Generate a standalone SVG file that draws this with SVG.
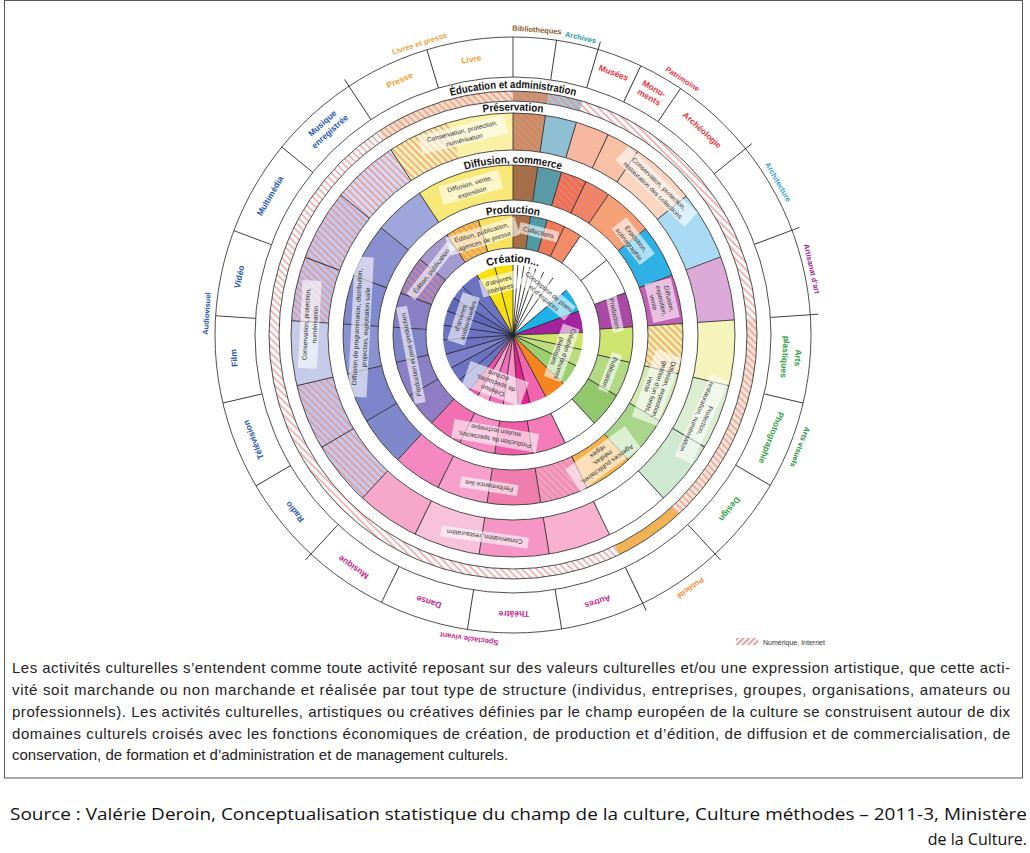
<svg xmlns="http://www.w3.org/2000/svg" xmlns:xlink="http://www.w3.org/1999/xlink" width="1030" height="853" viewBox="0 0 1030 853">
<style>
.rg circle{fill:none}
.ol{fill:none;stroke:#3a3a3a;stroke-width:0.9}
.dv{fill:none;stroke:#333;stroke-width:0.9}
.pl{fill:none;stroke:#222;stroke-width:0.8}
.lb{font-family:"Liberation Sans Narrow","Liberation Sans",Arial,sans-serif;font-weight:bold;text-anchor:middle;dominant-baseline:central;font-size:8.5px}
.gl{font-size:7.5px}
.it{font-family:"Liberation Sans Narrow","Liberation Sans",Arial,sans-serif;font-size:6.5px;fill:#333;text-anchor:middle;dominant-baseline:central}
.bx{fill:#fff;fill-opacity:0.6}
.tt{font-family:"Liberation Sans Narrow","Liberation Sans",Arial,sans-serif;font-weight:bold;font-size:11px;fill:#111;text-anchor:middle}
.or{fill:#f2a032}.br{fill:#8c5a2a}.te{fill:#2b98a6}.rd{fill:#e8363f}.lbu{fill:#2c9ad6}.pu{fill:#a01c9c}.gr{fill:#2ea043}.dg{fill:#1c8a3c}.po{fill:#f08a2c}.mg{fill:#c4268e}.bl{fill:#2456b0}
.para{font-family:"Liberation Sans",Arial,sans-serif;font-size:15px;fill:#222}
.src{font-family:"Open Sans","Liberation Sans",sans-serif;font-size:16px;fill:#111}
</style>
<defs>
<pattern id="h" width="5" height="5" patternUnits="userSpaceOnUse" patternTransform="rotate(45)"><rect width="2" height="5" fill="#e48888" fill-opacity="0.6"/></pattern>
<pattern id="h2" width="4" height="4" patternUnits="userSpaceOnUse" patternTransform="rotate(45)"><rect width="2" height="4" fill="#e8a0a0"/></pattern>
<path id="dv" d="M513 248V215M513 200V165M513 150V113M513 77V37"/>
<path id="dvx" d="M513 248V215M513 200V165M513 150V113M513 77V29"/>
<path id="dvy" d="M513 248V215M513 77V37"/>
<path id="pl" d="M513 335V265"/>
<path id="a1" d="M299.1 211.5A247 247 0 0 1 726.9 211.5"/>
<path id="a2" d="M318.6 222.75A224.5 224.5 0 0 1 707.4 222.75"/>
<path id="a3" d="M364.05 249A172 172 0 0 1 661.95 249"/>
<path id="a4" d="M407.35 274A122 122 0 0 1 618.65 274"/>
<path id="a5" d="M449.78 298.5A73 73 0 0 1 576.22 298.5"/>
</defs>
<rect width="1030" height="853" fill="#fff"/>
<rect x="4.5" y="0.5" width="1018" height="777.5" fill="none" stroke="#555" stroke-width="1"/>

<g id="rings">
<g id="ring-creation" class="rg" transform="translate(513 335) rotate(-90)" stroke-width="70">
<circle r="35" pathLength="360" stroke="#f8e010" stroke-dasharray="31 360" stroke-dashoffset="-329"/>
<circle r="35" pathLength="360" stroke="#1fb1ea" stroke-dasharray="20 360" stroke-dashoffset="-50"/>
<circle r="35" pathLength="360" stroke="#a4239e" stroke-dasharray="18 360" stroke-dashoffset="-70"/>
<circle r="35" pathLength="360" stroke="#cde36a" stroke-dasharray="14 360" stroke-dashoffset="-88"/>
<circle r="35" pathLength="360" stroke="#bcdc80" stroke-dasharray="14 360" stroke-dashoffset="-102"/>
<circle r="35" pathLength="360" stroke="#9ccf6e" stroke-dasharray="18 360" stroke-dashoffset="-116"/>
<circle r="35" pathLength="360" stroke="#f6841f" stroke-dasharray="18 360" stroke-dashoffset="-134"/>
<circle r="35" pathLength="360" stroke="#f264b0" stroke-dasharray="14 360" stroke-dashoffset="-152"/>
<circle r="35" pathLength="360" stroke="#e2238c" stroke-dasharray="10 360" stroke-dashoffset="-166"/>
<circle r="35" pathLength="360" stroke="#f590c6" stroke-dasharray="12 360" stroke-dashoffset="-176"/>
<circle r="35" pathLength="360" stroke="#ef6fb6" stroke-dasharray="12 360" stroke-dashoffset="-188"/>
<circle r="35" pathLength="360" stroke="#f7a8d0" stroke-dasharray="10 360" stroke-dashoffset="-200"/>
<circle r="35" pathLength="360" stroke="#e8559f" stroke-dasharray="8 360" stroke-dashoffset="-210"/>
<circle r="35" pathLength="360" stroke="#6c74c2" stroke-dasharray="111 360" stroke-dashoffset="-218"/>
<circle r="35" pathLength="360" stroke="#7b80c8" stroke-dasharray="12 360" stroke-dashoffset="-242"/>
<circle r="35" pathLength="360" stroke="#5f68b8" stroke-dasharray="12 360" stroke-dashoffset="-290"/>
</g>
<g id="ring-production" class="rg" transform="translate(513 335) rotate(-90)" stroke-width="33">
<circle r="103.5" pathLength="360" stroke="#8f7cc2" stroke-dasharray="16.9 360" stroke-dashoffset="-222.7"/>
<circle r="103.5" pathLength="360" stroke="#8a80c6" stroke-dasharray="17.2 360" stroke-dashoffset="-239.6"/>
<circle r="103.5" pathLength="360" stroke="#7f84c8" stroke-dasharray="16.9 360" stroke-dashoffset="-256.8"/>
<circle r="103.5" pathLength="360" stroke="#8a7fc4" stroke-dasharray="16.8 360" stroke-dashoffset="-273.7"/>
<circle r="103.5" pathLength="360" stroke="#9382c4" stroke-dasharray="18.6 360" stroke-dashoffset="-290.5"/>
<circle r="103.5" pathLength="360" stroke="#a49ad0" stroke-dasharray="17.5 360" stroke-dashoffset="-309.1"/>
<circle r="103.5" pathLength="360" stroke="#f3c040" stroke-dasharray="16.6 360" stroke-dashoffset="-326.6"/>
<circle r="103.5" pathLength="360" stroke="#f8e060" stroke-dasharray="16.8 360" stroke-dashoffset="-343.2"/>
<circle r="103.5" pathLength="360" stroke="#a66e45" stroke-dasharray="8.4 360" stroke-dashoffset="0"/>
<circle r="103.5" pathLength="360" stroke="#4e9ba3" stroke-dasharray="8.2 360" stroke-dashoffset="-8.4"/>
<circle r="103.5" pathLength="360" stroke="#ef7a5a" stroke-dasharray="8.8 360" stroke-dashoffset="-16.6"/>
<circle r="103.5" pathLength="360" stroke="#f28c68" stroke-dasharray="8.8 360" stroke-dashoffset="-25.4"/>
<circle r="103.5" pathLength="360" stroke="#a84aa6" stroke-dasharray="16.7 360" stroke-dashoffset="-69.4"/>
<circle r="103.5" pathLength="360" stroke="#cfe470" stroke-dasharray="17.1 360" stroke-dashoffset="-86.1"/>
<circle r="103.5" pathLength="360" stroke="#b3d985" stroke-dasharray="17.1 360" stroke-dashoffset="-103.2"/>
<circle r="103.5" pathLength="360" stroke="#92c76c" stroke-dasharray="17 360" stroke-dashoffset="-120.3"/>
<circle r="103.5" pathLength="360" stroke="#f27bb8" stroke-dasharray="16.4 360" stroke-dashoffset="-154.2"/>
<circle r="103.5" pathLength="360" stroke="#ee5fa8" stroke-dasharray="18.2 360" stroke-dashoffset="-170.6"/>
<circle r="103.5" pathLength="360" stroke="#f58cc2" stroke-dasharray="17.4 360" stroke-dashoffset="-188.8"/>
<circle r="103.5" pathLength="360" stroke="#f070b2" stroke-dasharray="16.5 360" stroke-dashoffset="-206.2"/>
<circle r="103.5" pathLength="360" stroke="url(#h)" stroke-dasharray="16.6 360" stroke-dashoffset="-326.6"/>
<circle r="103.5" pathLength="360" stroke="url(#h)" stroke-dasharray="18.6 360" stroke-dashoffset="-290.5"/>
</g>
<g id="ring-diffusion" class="rg" transform="translate(513 335) rotate(-90)" stroke-width="35">
<circle r="152.5" pathLength="360" stroke="#8088cc" stroke-dasharray="16.9 360" stroke-dashoffset="-222.7"/>
<circle r="152.5" pathLength="360" stroke="#7d85ca" stroke-dasharray="17.2 360" stroke-dashoffset="-239.6"/>
<circle r="152.5" pathLength="360" stroke="#8a92d2" stroke-dasharray="16.9 360" stroke-dashoffset="-256.8"/>
<circle r="152.5" pathLength="360" stroke="#8088ce" stroke-dasharray="16.8 360" stroke-dashoffset="-273.7"/>
<circle r="152.5" pathLength="360" stroke="#8a8fd0" stroke-dasharray="18.6 360" stroke-dashoffset="-290.5"/>
<circle r="152.5" pathLength="360" stroke="#9ea6dc" stroke-dasharray="17.5 360" stroke-dashoffset="-309.1"/>
<circle r="152.5" pathLength="360" stroke="#f8e878" stroke-dasharray="33.4 360" stroke-dashoffset="-326.6"/>
<circle r="152.5" pathLength="360" stroke="#a46f48" stroke-dasharray="8.4 360" stroke-dashoffset="0"/>
<circle r="152.5" pathLength="360" stroke="#5a9aa6" stroke-dasharray="8.2 360" stroke-dashoffset="-8.4"/>
<circle r="152.5" pathLength="360" stroke="#ee6f50" stroke-dasharray="8.8 360" stroke-dashoffset="-16.6"/>
<circle r="152.5" pathLength="360" stroke="#f3825e" stroke-dasharray="8.8 360" stroke-dashoffset="-25.4"/>
<circle r="152.5" pathLength="360" stroke="#f6a077" stroke-dasharray="17.1 360" stroke-dashoffset="-34.2"/>
<circle r="152.5" pathLength="360" stroke="#2fb1e6" stroke-dasharray="18.1 360" stroke-dashoffset="-51.3"/>
<circle r="152.5" pathLength="360" stroke="#c262b6" stroke-dasharray="16.7 360" stroke-dashoffset="-69.4"/>
<circle r="152.5" pathLength="360" stroke="#f2ee9c" stroke-dasharray="17.1 360" stroke-dashoffset="-86.1"/>
<circle r="152.5" pathLength="360" stroke="#d5e9b5" stroke-dasharray="17.1 360" stroke-dashoffset="-103.2"/>
<circle r="152.5" pathLength="360" stroke="#a9d68a" stroke-dasharray="17 360" stroke-dashoffset="-120.3"/>
<circle r="152.5" pathLength="360" stroke="#f8b24c" stroke-dasharray="16.9 360" stroke-dashoffset="-137.3"/>
<circle r="152.5" pathLength="360" stroke="#f59cc8" stroke-dasharray="16.4 360" stroke-dashoffset="-154.2"/>
<circle r="152.5" pathLength="360" stroke="#f27ab8" stroke-dasharray="18.2 360" stroke-dashoffset="-170.6"/>
<circle r="152.5" pathLength="360" stroke="#f6a0cb" stroke-dasharray="17.4 360" stroke-dashoffset="-188.8"/>
<circle r="152.5" pathLength="360" stroke="#f389c0" stroke-dasharray="16.5 360" stroke-dashoffset="-206.2"/>
<circle r="152.5" pathLength="360" stroke="url(#h)" stroke-dasharray="17.6 360" stroke-dashoffset="-16.6"/>
<circle r="152.5" pathLength="360" stroke="url(#h)" stroke-dasharray="17.1 360" stroke-dashoffset="-86.1"/>
<circle r="152.5" pathLength="360" stroke="url(#h)" stroke-dasharray="34.6 360" stroke-dashoffset="-154.2"/>
</g>
<g id="ring-preservation" class="rg" transform="translate(513 335) rotate(-90)" stroke-width="37">
<circle r="203.5" pathLength="360" stroke="#c9c9e6" stroke-dasharray="16.9 360" stroke-dashoffset="-222.7"/>
<circle r="203.5" pathLength="360" stroke="#c3c5e6" stroke-dasharray="17.2 360" stroke-dashoffset="-239.6"/>
<circle r="203.5" pathLength="360" stroke="#c6cbe9" stroke-dasharray="16.9 360" stroke-dashoffset="-256.8"/>
<circle r="203.5" pathLength="360" stroke="#c0c3e4" stroke-dasharray="16.8 360" stroke-dashoffset="-273.7"/>
<circle r="203.5" pathLength="360" stroke="#c5c8e8" stroke-dasharray="18.6 360" stroke-dashoffset="-290.5"/>
<circle r="203.5" pathLength="360" stroke="#d8d8ee" stroke-dasharray="17.5 360" stroke-dashoffset="-309.1"/>
<circle r="203.5" pathLength="360" stroke="#faf1a6" stroke-dasharray="33.4 360" stroke-dashoffset="-326.6"/>
<circle r="203.5" pathLength="360" stroke="#c48e5e" stroke-dasharray="8.4 360" stroke-dashoffset="0"/>
<circle r="203.5" pathLength="360" stroke="#8fbfd2" stroke-dasharray="8.2 360" stroke-dashoffset="-8.4"/>
<circle r="203.5" pathLength="360" stroke="#f8b7a0" stroke-dasharray="8.8 360" stroke-dashoffset="-16.6"/>
<circle r="203.5" pathLength="360" stroke="#f9c0a8" stroke-dasharray="8.8 360" stroke-dashoffset="-25.4"/>
<circle r="203.5" pathLength="360" stroke="#fbd5bf" stroke-dasharray="17.1 360" stroke-dashoffset="-34.2"/>
<circle r="203.5" pathLength="360" stroke="#a9dcf4" stroke-dasharray="18.1 360" stroke-dashoffset="-51.3"/>
<circle r="203.5" pathLength="360" stroke="#dcaad8" stroke-dasharray="16.7 360" stroke-dashoffset="-69.4"/>
<circle r="203.5" pathLength="360" stroke="#f5f5bb" stroke-dasharray="17.1 360" stroke-dashoffset="-86.1"/>
<circle r="203.5" pathLength="360" stroke="#dcedd2" stroke-dasharray="17.1 360" stroke-dashoffset="-103.2"/>
<circle r="203.5" pathLength="360" stroke="#cfe8d2" stroke-dasharray="17 360" stroke-dashoffset="-120.3"/>
<circle r="203.5" pathLength="360" stroke="#f8b2cf" stroke-dasharray="16.4 360" stroke-dashoffset="-154.2"/>
<circle r="203.5" pathLength="360" stroke="#f596c5" stroke-dasharray="18.2 360" stroke-dashoffset="-170.6"/>
<circle r="203.5" pathLength="360" stroke="#f8c2db" stroke-dasharray="17.4 360" stroke-dashoffset="-188.8"/>
<circle r="203.5" pathLength="360" stroke="#f6a8cb" stroke-dasharray="16.5 360" stroke-dashoffset="-206.2"/>
<circle r="203.5" pathLength="360" stroke="url(#h)" stroke-dasharray="16.6 360" stroke-dashoffset="-326.6"/>
<circle r="203.5" pathLength="360" stroke="url(#h)" stroke-dasharray="8.4 360" stroke-dashoffset="0"/>
<circle r="203.5" pathLength="360" stroke="url(#h)" stroke-dasharray="34.1 360" stroke-dashoffset="-222.7"/>
<circle r="203.5" pathLength="360" stroke="url(#h)" stroke-dasharray="52.9 360" stroke-dashoffset="-273.7"/>
</g>
<g id="ring-education" class="rg" transform="translate(513 335) rotate(-90)" stroke-width="10">
<circle r="239" pathLength="360" stroke="#f3dfc2" stroke-dasharray="33.4 360" stroke-dashoffset="-326.6"/>
<circle r="239" pathLength="360" stroke="#c4956f" stroke-dasharray="8.4 360" stroke-dashoffset="0"/>
<circle r="239" pathLength="360" stroke="#a9c5d3" stroke-dasharray="8.2 360" stroke-dashoffset="-8.4"/>
<circle r="239" pathLength="360" stroke="#f8e6d6" stroke-dasharray="51.2 360" stroke-dashoffset="-86.1"/>
<circle r="239" pathLength="360" stroke="#f1b255" stroke-dasharray="16.9 360" stroke-dashoffset="-137.3"/>
<circle r="239" pathLength="360" stroke="url(#h)" stroke-dasharray="137.3 360" stroke-dashoffset="0"/>
<circle r="239" pathLength="360" stroke="url(#h)" stroke-dasharray="205.8 360" stroke-dashoffset="-154.2"/>
</g>
<g id="ring-outlines">
<circle class="ol" cx="513" cy="335" r="87"/>
<circle class="ol" cx="513" cy="335" r="120"/>
<circle class="ol" cx="513" cy="335" r="135"/>
<circle class="ol" cx="513" cy="335" r="170"/>
<circle class="ol" cx="513" cy="335" r="185"/>
<circle class="ol" cx="513" cy="335" r="222"/>
<circle class="ol" cx="513" cy="335" r="234"/>
<circle class="ol" cx="513" cy="335" r="244"/>
<circle class="ol" cx="513" cy="335" r="258"/>
<circle class="ol" cx="513" cy="335" r="298"/>
</g>
</g>

<g id="connectors">
<g class="pl">
<use href="#pl" transform="rotate(329 513 335)"/><use href="#pl" transform="rotate(345 513 335)"/><use href="#pl" transform="rotate(0 513 335)"/><use href="#pl" transform="rotate(4 513 335)"/><use href="#pl" transform="rotate(9 513 335)"/><use href="#pl" transform="rotate(14 513 335)"/><use href="#pl" transform="rotate(19 513 335)"/><use href="#pl" transform="rotate(26 513 335)"/><use href="#pl" transform="rotate(35 513 335)"/><use href="#pl" transform="rotate(50 513 335)"/><use href="#pl" transform="rotate(70 513 335)"/><use href="#pl" transform="rotate(88 513 335)"/><use href="#pl" transform="rotate(102 513 335)"/><use href="#pl" transform="rotate(116 513 335)"/><use href="#pl" transform="rotate(134 513 335)"/><use href="#pl" transform="rotate(152 513 335)"/><use href="#pl" transform="rotate(166 513 335)"/><use href="#pl" transform="rotate(176 513 335)"/><use href="#pl" transform="rotate(188 513 335)"/><use href="#pl" transform="rotate(200 513 335)"/><use href="#pl" transform="rotate(210 513 335)"/><use href="#pl" transform="rotate(218 513 335)"/><use href="#pl" transform="rotate(230 513 335)"/><use href="#pl" transform="rotate(242 513 335)"/><use href="#pl" transform="rotate(254 513 335)"/><use href="#pl" transform="rotate(266 513 335)"/><use href="#pl" transform="rotate(278 513 335)"/><use href="#pl" transform="rotate(290 513 335)"/><use href="#pl" transform="rotate(302 513 335)"/><use href="#pl" transform="rotate(314 513 335)"/>
</g>
<g class="dv">
<use href="#dv" transform="rotate(0 513 335)"/>
<use href="#dv" transform="rotate(8.4 513 335)"/>
<use href="#dvx" transform="rotate(16.6 513 335)"/>
<use href="#dv" transform="rotate(25.4 513 335)"/>
<use href="#dv" transform="rotate(34.2 513 335)"/>
<use href="#dvx" transform="rotate(51.3 513 335)"/>
<use href="#dvx" transform="rotate(69.4 513 335)"/>
<use href="#dvx" transform="rotate(86.1 513 335)"/>
<use href="#dv" transform="rotate(103.2 513 335)"/>
<use href="#dv" transform="rotate(120.3 513 335)"/>
<use href="#dvx" transform="rotate(137.3 513 335)"/>
<use href="#dvx" transform="rotate(154.2 513 335)"/>
<use href="#dv" transform="rotate(170.6 513 335)"/>
<use href="#dv" transform="rotate(188.8 513 335)"/>
<use href="#dv" transform="rotate(206.2 513 335)"/>
<use href="#dvx" transform="rotate(222.7 513 335)"/>
<use href="#dv" transform="rotate(239.6 513 335)"/>
<use href="#dv" transform="rotate(256.8 513 335)"/>
<use href="#dv" transform="rotate(273.7 513 335)"/>
<use href="#dv" transform="rotate(290.5 513 335)"/>
<use href="#dv" transform="rotate(309.1 513 335)"/>
<use href="#dvx" transform="rotate(326.6 513 335)"/>
<use href="#dvy" transform="rotate(343.2 513 335)"/>
</g>
</g>

<g id="ring-titles">
<text class="tt"><textPath href="#a1" startOffset="50%" textLength="126" lengthAdjust="spacingAndGlyphs">Éducation et administration</textPath></text>
<text class="tt"><textPath href="#a2" startOffset="50%" textLength="60" lengthAdjust="spacingAndGlyphs">Préservation</textPath></text>
<text class="tt"><textPath href="#a3" startOffset="50%" textLength="97" lengthAdjust="spacingAndGlyphs">Diffusion, commerce</textPath></text>
<text class="tt"><textPath href="#a4" startOffset="50%" textLength="53" lengthAdjust="spacingAndGlyphs">Production</textPath></text>
<text class="tt"><textPath href="#a5" startOffset="50%" textLength="52" lengthAdjust="spacingAndGlyphs">Création...</textPath></text>
</g>

<g id="domain-labels" class="lb">
<g id="livres-presse"><text class="or gl" transform="rotate(-17.8 513 335)" x="513" y="29">Livres et presse</text><text class="or" transform="rotate(-24 513 335)" x="513" y="56">Presse</text><text class="or" transform="rotate(-8.6 513 335)" x="513" y="56">Livre</text></g>
<g id="bibliotheques"><text class="br gl" transform="rotate(4.5 513 335)" x="513" y="29">Bibliothèques</text></g>
<g id="archives"><text class="te gl" transform="rotate(12.8 513 335)" x="513" y="30">Archives</text></g>
<g id="patrimoine"><text class="rd gl" transform="rotate(33.5 513 335)" x="513" y="28">Patrimoine</text><text class="rd" transform="rotate(21 513 335)" x="513" y="54">Musées</text><text class="rd" transform="rotate(29.8 513 335)" x="513"><tspan x="513" y="51">Monu-</tspan><tspan x="513" y="61">ments</tspan></text><text class="rd" transform="rotate(42.7 513 335)" x="513" y="56">Archéologie</text></g>
<g id="architecture"><text class="lbu gl" transform="rotate(60 513 335)" x="513" y="29">Architecture</text></g>
<g id="artisanat"><text class="pu gl" transform="rotate(77.5 513 335)" x="513" y="29">Artisanat d’art</text></g>
<g id="arts-visuels"><text class="dg gl" transform="rotate(111.3 513 335)" x="513" y="27">Arts visuels</text><text class="gr" transform="rotate(94.6 513 335)"><tspan x="513" y="49">Arts</tspan><tspan x="513" y="62">plastiques</tspan></text><text class="gr" transform="rotate(111.7 513 335)" x="513" y="57">Photographie</text><text class="gr" transform="rotate(128.8 513 335)" x="513" y="57">Design</text></g>
<g id="publicite"><text class="po gl" transform="rotate(145 513 335)" x="513" y="26">Publicité</text></g>
<g id="spectacle-vivant"><text class="mg gl" transform="rotate(188.2 513 335)" x="513" y="28">Spectacle vivant</text><text class="mg" transform="rotate(162.4 513 335)" x="513" y="55">Autres</text><text class="mg" transform="rotate(179.8 513 335)" x="513" y="56">Théâtre</text><text class="mg" transform="rotate(197.5 513 335)" x="513" y="55">Danse</text><text class="mg" transform="rotate(214.5 513 335)" x="513" y="53">Musique</text></g>
<g id="audiovisuel"><text class="bl gl" transform="rotate(-86 513 335)" x="513" y="28">Audiovisuel</text><text class="bl" transform="rotate(231 513 335)" x="513" y="54">Radio</text><text class="bl" transform="rotate(248 513 335)" x="513" y="55">Télévision</text><text class="bl" transform="rotate(265.3 513 335)" x="513" y="55">Film</text><text class="bl" transform="rotate(282 513 335)" x="513" y="55">Vidéo</text><text class="bl" transform="rotate(299.8 513 335)" x="513" y="55">Multimédia</text><text class="bl" transform="rotate(318 513 335)"><tspan x="513" y="50">Musique</tspan><tspan x="513" y="61">enregistrée</tspan></text></g>
</g>

<g id="function-labels">
<g id="p1" transform="rotate(-14 513 335)"><rect class="bx" x="469" y="119" width="88" height="19"/><text class="it"><tspan x="513" y="124">Conservation, protection,</tspan><tspan x="513" y="133">numérisation</tspan></text></g>
<g id="p2" transform="rotate(44 513 335)"><rect class="bx" x="465" y="119" width="96" height="19"/><text class="it"><tspan x="513" y="124">Conservation, protection,</tspan><tspan x="513" y="133">restauration des collections</tspan></text></g>
<g id="p3" transform="rotate(114 513 335)"><rect class="bx" x="468" y="119" width="90" height="19"/><text class="it"><tspan x="513" y="124">Protection,</tspan><tspan x="513" y="133">restauration, numérisation</tspan></text></g>
<g id="p4" transform="rotate(188 513 335)"><rect class="bx" x="469" y="125.5" width="88" height="11"/><text class="it" x="513" y="131">Conservation, restauration</text></g>
<g id="p5" transform="rotate(-87 513 335)"><rect class="bx" x="469" y="122" width="88" height="19"/><text class="it"><tspan x="513" y="127">Conservation, protection,</tspan><tspan x="513" y="136">numérisation</tspan></text></g>
<g id="d1" transform="rotate(-16 513 335)"><rect class="bx" x="482" y="172" width="62" height="19"/><text class="it"><tspan x="513" y="177">Diffusion, vente,</tspan><tspan x="513" y="186">exposition</tspan></text></g>
<g id="d2" transform="rotate(52 513 335)"><rect class="bx" x="490" y="173" width="46" height="19"/><text class="it"><tspan x="513" y="178">Exposition,</tspan><tspan x="513" y="187">scénographie</tspan></text></g>
<g id="d3" transform="rotate(77 513 335)"><rect class="bx" x="493" y="168.5" width="40" height="27"/><text class="it"><tspan x="513" y="174">Diffusion,</tspan><tspan x="513" y="182">exposition,</tspan><tspan x="513" y="190">vente</tspan></text></g>
<g id="d4" transform="rotate(110 513 335)"><rect class="bx" x="477" y="168.5" width="72" height="27"/><text class="it"><tspan x="513" y="174">Diffusion, exposition,</tspan><tspan x="513" y="182">gestion d’un fonds,</tspan><tspan x="513" y="190">vente</tspan></text></g>
<g id="d5" transform="rotate(144 513 335)"><rect class="bx" x="476" y="168.5" width="74" height="27"/><text class="it"><tspan x="513" y="174">Agences publicitaires,</tspan><tspan x="513" y="182">médias,</tspan><tspan x="513" y="190">régies</tspan></text></g>
<g id="d6" transform="rotate(189 513 335)"><rect class="bx" x="484" y="176.5" width="58" height="11"/><text class="it" x="513" y="182">Performance live</text></g>
<g id="d7" transform="rotate(-87 513 335)"><rect class="bx" x="443" y="173" width="140" height="19"/><text class="it"><tspan x="513" y="178">Diffusion de programmation, distribution,</tspan><tspan x="513" y="187">projection, exploitation salle</tspan></text></g>
<g id="pr1" transform="rotate(-17 513 335)"><rect class="bx" x="477" y="222" width="72" height="19"/><text class="it"><tspan x="513" y="227">Édition, publication,</tspan><tspan x="513" y="236">agences de presse</tspan></text></g>
<g id="pr2" transform="rotate(14 513 335)"><rect class="bx" x="493" y="223.5" width="40" height="11"/><text class="it" x="513" y="229">Collections</text></g>
<g id="pr3" transform="rotate(78 513 335)"><rect class="bx" x="494" y="225.5" width="38" height="11"/><text class="it" x="513" y="231">Production</text></g>
<g id="pr4" transform="rotate(111 513 335)"><rect class="bx" x="493" y="225.5" width="40" height="11"/><text class="it" x="513" y="231">Publication</text></g>
<g id="pr5" transform="rotate(190 513 335)"><rect class="bx" x="470" y="223" width="86" height="19"/><text class="it"><tspan x="513" y="228">Production de spectacles,</tspan><tspan x="513" y="237">soutien technique</tspan></text></g>
<g id="pr6" transform="rotate(-101 513 335)"><rect class="bx" x="464" y="225.5" width="98" height="11"/><text class="it" x="513" y="231">Production et post-production</text></g>
<g id="pr7" transform="rotate(-52 513 335)"><rect class="bx" x="480" y="225.5" width="66" height="11"/><text class="it" x="513" y="231">Édition, publication</text></g>
<g id="c1" transform="rotate(-15 513 335)"><rect class="bx" x="494" y="273" width="38" height="18"/><text class="it"><tspan x="513" y="278">d’œuvres</tspan><tspan x="513" y="286">littéraires</tspan></text></g>
<g id="c2" transform="rotate(40 513 335)"><rect class="bx" x="483" y="273" width="60" height="18"/><text class="it"><tspan x="513" y="278">Conception de plans</tspan><tspan x="513" y="286">et d’espaces</tspan></text></g>
<g id="c3" transform="rotate(-72 513 335)"><rect class="bx" x="488" y="274" width="50" height="18"/><text class="it"><tspan x="513" y="279">d’œuvres</tspan><tspan x="513" y="287">audiovisuelles</tspan></text></g>
<g id="c4" transform="rotate(200 513 335)"><rect class="bx" x="482" y="270" width="62" height="26"/><text class="it"><tspan x="513" y="275">Création</tspan><tspan x="513" y="283">de spectacles,</tspan><tspan x="513" y="291">écriture</tspan></text></g>
<g id="c5" transform="rotate(110 513 335)"><rect class="bx" x="485" y="274" width="56" height="18"/><text class="it"><tspan x="513" y="279">Création d’œuvres</tspan><tspan x="513" y="287">plastiques</tspan></text></g>
</g>

<g id="legend">
<rect x="736" y="638" width="22" height="7" fill="url(#h2)"/>
<text x="763" y="645" font-family="Liberation Sans Narrow,Liberation Sans,Arial,sans-serif" font-size="7" fill="#333">Numérique, Internet</text>
</g>

<g id="caption" class="para">
<text x="12" y="673" textLength="998" lengthAdjust="spacing">Les activités culturelles s’entendent comme toute activité reposant sur des valeurs culturelles et/ou une expression artistique, que cette acti-</text>
<text x="12" y="695" textLength="998" lengthAdjust="spacing">vité soit marchande ou non marchande et réalisée par tout type de structure (individus, entreprises, groupes, organisations, amateurs ou</text>
<text x="12" y="717" textLength="998" lengthAdjust="spacing">professionnels). Les activités culturelles, artistiques ou créatives définies par le champ européen de la culture se construisent autour de dix</text>
<text x="12" y="739" textLength="998" lengthAdjust="spacing">domaines culturels croisés avec les fonctions économiques de création, de production et d’édition, de diffusion et de commercialisation, de</text>
<text x="12" y="760">conservation, de formation et d’administration et de management culturels.</text>
</g>

<g id="source" class="src">
<text x="10" y="820" textLength="1017" lengthAdjust="spacingAndGlyphs">Source : Valérie Deroin, Conceptualisation statistique du champ de la culture, Culture méthodes – 2011-3, Ministère</text>
<text x="1027" y="845" text-anchor="end">de la Culture.</text>
</g>
</svg>
